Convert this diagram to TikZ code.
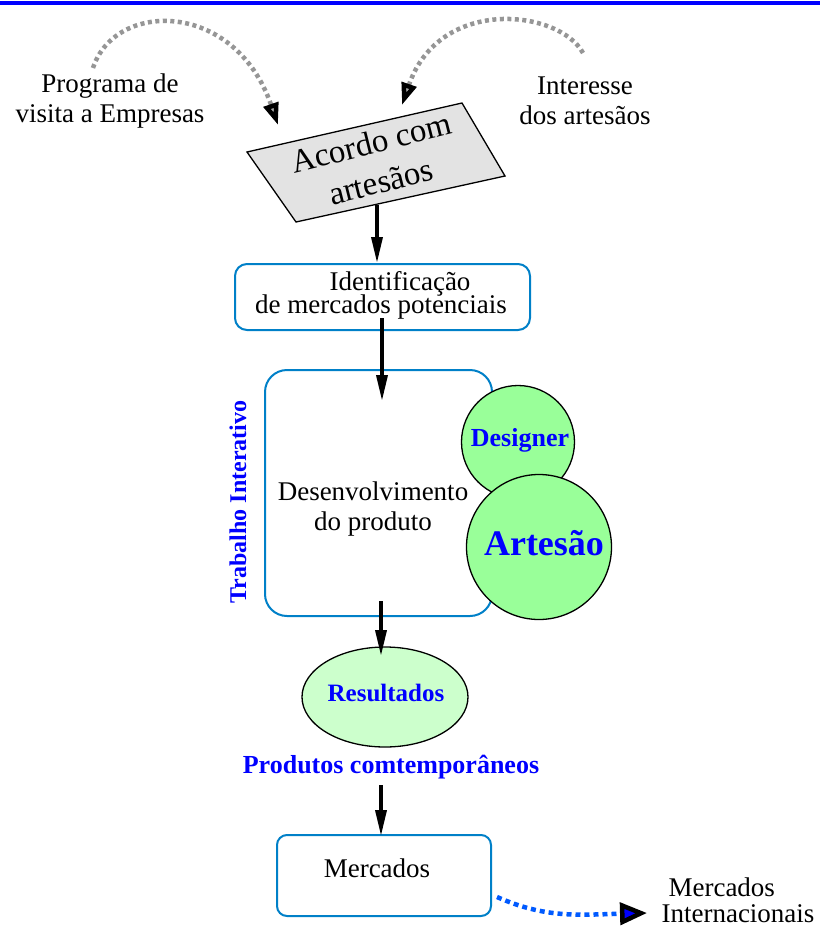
\documentclass[tikz,border=0pt]{standalone}
\usepackage{fontspec}
\setmainfont{Liberation Serif}
\usetikzlibrary{arrows.meta,shapes.geometric}
\definecolor{boxblue}{RGB}{0,128,200}
\definecolor{dotgray}{RGB}{150,150,150}
\definecolor{greencirc}{RGB}{153,255,153}
\definecolor{greenell}{RGB}{204,255,204}
\definecolor{dotblue}{RGB}{0,90,255}
\definecolor{txtblue}{RGB}{0,0,255}
\tikzset{
  plaintext/.style={align=center,inner sep=0pt,text=black,font=\fontsize{27}{31}\selectfont},
  bluebold/.style={inner sep=0pt,text=txtblue,font=\bfseries\fontsize{25}{28}\selectfont},
  bluebox/.style={draw=boxblue,line width=2pt,inner sep=0pt},
  flowarrow/.style={line width=3.5pt,black,-{Triangle[length=26pt,width=11pt]}},
  grayarrow/.style={line width=4.5pt,dotgray,dash pattern=on 4pt off 3.5pt,-{Triangle[length=22pt,width=15pt,color=black,fill=gray!70]}},
  bluearrow/.style={line width=4.5pt,dotblue,dash pattern=on 5pt off 4pt,-{Triangle[length=27pt,width=22pt,color=black,fill=blue]}},
}
\begin{document}
\begin{tikzpicture}[x=1pt,y=-1pt]
\useasboundingbox (0,0) rectangle (820,927);
\fill[white] (0,0) rectangle (820,927);
% top rule
\draw[line width=4pt,blue] (0,3) -- (820,3);

% side texts
\node[plaintext] (prog) at (110,101) {Programa de\\[-1pt]visita a Empresas};
\node[plaintext] (inter) at (585,101) {Interesse\\[-1pt]dos artesãos};

% parallelogram
\coordinate (p1) at (247,152);
\coordinate (p2) at (462,103);
\coordinate (p3) at (505,176);
\coordinate (p4) at (296,222);
\filldraw[fill=gray!22,draw=black,line width=1.3pt] (p1) -- (p2) -- (p3) -- (p4) -- cycle;
\node[plaintext,rotate=14,font=\fontsize{33}{40}\selectfont] (acordo) at (376,162) {Acordo com\\artesãos};

% gray dotted arrows
\coordinate (g1s) at (93,68);
\coordinate (g1e) at (278,125);
\coordinate (g2s) at (583,53);
\coordinate (g2e) at (402,105);
\draw[grayarrow] (g1s) .. controls (115,0) and (235,0) .. (g1e);
\draw[grayarrow] (g2s) .. controls (560,10) and (440,-5) .. (g2e);

% Identificacao box
\node[bluebox,rounded corners=12pt,minimum width=295pt,minimum height=66pt] (idbox) at (382.5,297) {};
\node[plaintext] (idt1) at (400,284) {Identificação};
\node[plaintext] (idt2) at (381,307) {de mercados potenciais};

% development box
\node[bluebox,rounded corners=22pt,minimum width=227pt,minimum height=246pt] (devbox) at (378.5,493) {};
\node[plaintext,font=\fontsize{27}{30}\selectfont] (devt) at (373,509) {Desenvolvimento\\do produto};

% circles
\node[circle,draw=black,line width=1.3pt,fill=greencirc,minimum size=113pt,inner sep=0pt] (designer) at (518,442) {};
\node[bluebold,font=\bfseries\fontsize{26}{28}\selectfont] (designert) at (520,440) {Designer};
\node[circle,draw=black,line width=1.3pt,fill=greencirc,minimum size=145pt,inner sep=0pt] (artesao) at (539,547) {};
\node[bluebold,font=\bfseries\fontsize{36}{38}\selectfont] (artesaot) at (544,543) {Artesão};

% vertical label
\node[bluebold,font=\bfseries\fontsize{24}{26}\selectfont,rotate=90] (trab) at (238,502) {Trabalho Interativo};

% ellipse
\node[ellipse,draw=black,line width=1.3pt,fill=greenell,minimum width=166pt,minimum height=100pt,inner sep=0pt] (result) at (385,697) {};
\node[bluebold] (resultt) at (386,693) {Resultados};
\node[bluebold,font=\bfseries\fontsize{26}{28}\selectfont] (prod) at (391,767) {Produtos comtemporâneos};

% Mercados box
\node[bluebox,rounded corners=10pt,minimum width=214pt,minimum height=81pt] (merc) at (384,875.5) {};
\node[plaintext] (merct) at (377,868) {Mercados};

% Mercados internacionais
\node[plaintext,align=left] (mint) at (738,900) {\hspace*{7pt}Mercados\\[-5pt]Internacionais};

% flow arrows
\coordinate (a1s) at (377,205);
\coordinate (a1e) at (377,263);
\coordinate (a2s) at (382,318);
\coordinate (a2e) at (382,401);
\coordinate (a3s) at (381,601);
\coordinate (a3e) at (381,656);
\coordinate (a4s) at (381,785);
\coordinate (a4e) at (381,836);
\draw[flowarrow] (a1s) -- (a1e);
\draw[flowarrow] (a2s) -- (a2e);
\draw[flowarrow] (a3s) -- (a3e);
\draw[flowarrow] (a4s) -- (a4e);

% blue dotted arrow
\coordinate (b1s) at (497,897);
\coordinate (b1e) at (647,913);
\draw[bluearrow] (b1s) .. controls (545,918) and (575,915) .. (b1e);
\end{tikzpicture}
\end{document}
